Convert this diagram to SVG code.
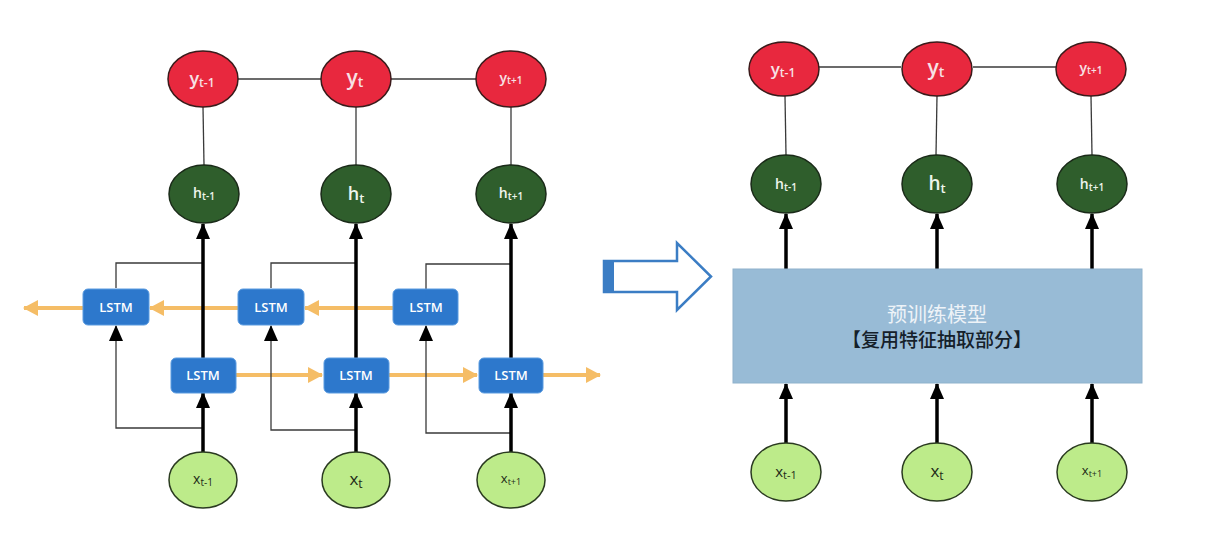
<svg xmlns="http://www.w3.org/2000/svg" width="1226" height="560" viewBox="0 0 1226 560">
<defs>
<style>
.y{fill:#E8283E;stroke:#3a1a1a;stroke-width:1.5}
.h{fill:#2F5E2C;stroke:#1a2a18;stroke-width:1.5}
.x{fill:#BDEB8A;stroke:#2a3a20;stroke-width:1.5}
.lstm{fill:#2D78CC;stroke:#5a9be0;stroke-width:1}
.lt{font-family:"Open Sans","Liberation Sans",sans-serif;fill:#ffffff;font-size:13px;font-weight:600;text-anchor:middle}
.lab{font-family:"Open Sans","Liberation Sans",sans-serif;text-anchor:middle}
.ylab{fill:#f7e1e5;font-weight:600}
.hlab{fill:#eef5ec;font-weight:600}
.xlab{fill:#1e2a18}
.thin{stroke:#3a3a3a;stroke-width:1.3;fill:none}
.thick{stroke:#000;stroke-width:3.5;fill:none}
.or{stroke:#F4B656;stroke-width:4;fill:none;opacity:0.9}
</style>
<marker id="blk" viewBox="0 0 16 14" refX="15" refY="7" markerWidth="16" markerHeight="14" markerUnits="userSpaceOnUse" orient="auto">
<path d="M0,0 L16,7 L0,14 z" fill="#000"/>
</marker>
<marker id="orh" viewBox="0 0 15 16" refX="14" refY="8" markerWidth="15" markerHeight="16" markerUnits="userSpaceOnUse" orient="auto">
<path d="M0,0 L15,8 L0,16 z" fill="#F4B656"/>
</marker>
</defs>
<rect width="1226" height="560" fill="#ffffff"/>

<g id="connectors">
<line class="thin" x1="238" y1="79" x2="321" y2="79"/>
<line class="thin" x1="391" y1="79" x2="476" y2="79"/>
<line class="thin" x1="203" y1="107" x2="204" y2="165"/>
<line class="thin" x1="356" y1="107" x2="356" y2="165"/>
<line class="thin" x1="511" y1="107" x2="511" y2="165"/>
<line class="or" x1="83" y1="308" x2="24" y2="308" marker-end="url(#orh)"/>
<line class="or" x1="238" y1="308" x2="150" y2="308" marker-end="url(#orh)"/>
<line class="or" x1="393" y1="308" x2="305" y2="308" marker-end="url(#orh)"/>
<line class="or" x1="236" y1="375" x2="322" y2="375" marker-end="url(#orh)"/>
<line class="or" x1="389" y1="375" x2="477" y2="375" marker-end="url(#orh)"/>
<line class="or" x1="543" y1="375" x2="600" y2="375" marker-end="url(#orh)"/>
<polyline class="thin" points="116,288 116,263 203,263"/>
<polyline class="thin" points="271,288 271,263 356,263"/>
<polyline class="thin" points="426,289 426,264 511,264"/>
<polyline class="thin" points="203,428 116,428 116,326" marker-end="url(#blk)"/>
<polyline class="thin" points="356,430 271,430 271,326" marker-end="url(#blk)"/>
<polyline class="thin" points="511,433 426,433 426,326" marker-end="url(#blk)"/>
<line class="thick" x1="203" y1="452" x2="203" y2="393" marker-end="url(#blk)"/>
<line class="thick" x1="356" y1="452" x2="356" y2="393" marker-end="url(#blk)"/>
<line class="thick" x1="511" y1="452" x2="511" y2="393" marker-end="url(#blk)"/>
<line class="thick" x1="203" y1="358" x2="203" y2="224" marker-end="url(#blk)"/>
<line class="thick" x1="356" y1="358" x2="356" y2="224" marker-end="url(#blk)"/>
<line class="thick" x1="511" y1="358" x2="511" y2="224" marker-end="url(#blk)"/>
<line class="thin" x1="819" y1="67" x2="901" y2="67"/>
<line class="thin" x1="973" y1="67" x2="1056" y2="67"/>
<line class="thin" x1="785" y1="96" x2="786" y2="155"/>
<line class="thin" x1="937" y1="96" x2="936" y2="155"/>
<line class="thin" x1="1091" y1="96" x2="1092" y2="155"/>
<line class="thick" x1="786" y1="269" x2="786" y2="214" marker-end="url(#blk)"/>
<line class="thick" x1="937" y1="269" x2="937" y2="214" marker-end="url(#blk)"/>
<line class="thick" x1="1092" y1="269" x2="1092" y2="214" marker-end="url(#blk)"/>
<line class="thick" x1="786" y1="443" x2="786" y2="384" marker-end="url(#blk)"/>
<line class="thick" x1="937" y1="443" x2="937" y2="384" marker-end="url(#blk)"/>
<line class="thick" x1="1092" y1="443" x2="1092" y2="384" marker-end="url(#blk)"/>
</g>

<g id="L_y_tm1"><ellipse class="y" cx="203" cy="79" rx="35" ry="28"/><text class="lab ylab" x="202" y="85" font-size="18">y<tspan font-size="12" dy="2">t-1</tspan></text></g>
<g id="L_y_t"><ellipse class="y" cx="356" cy="79" rx="35" ry="28"/><text class="lab ylab" x="355" y="85" font-size="21">y<tspan font-size="14" dy="2">t</tspan></text></g>
<g id="L_y_tp1"><ellipse class="y" cx="511" cy="79" rx="35" ry="28"/><text class="lab ylab" x="511" y="83" font-size="14">y<tspan font-size="10" dy="1">t+1</tspan></text></g>
<g id="L_h_tm1"><ellipse class="h" cx="204" cy="194" rx="35" ry="29"/><text class="lab hlab" x="204" y="198" font-size="14">h<tspan font-size="10" dy="2">t-1</tspan></text></g>
<g id="L_h_t"><ellipse class="h" cx="356" cy="194" rx="35" ry="29"/><text class="lab hlab" x="356" y="200" font-size="18">h<tspan font-size="13" dy="3">t</tspan></text></g>
<g id="L_h_tp1"><ellipse class="h" cx="511" cy="194" rx="35" ry="29"/><text class="lab hlab" x="511" y="198" font-size="14">h<tspan font-size="10" dy="2">t+1</tspan></text></g>

<g id="L_lstm_up1"><rect class="lstm" x="83" y="289" width="66" height="36" rx="5"/><text class="lt" x="116" y="312">LSTM</text></g>
<g id="L_lstm_up2"><rect class="lstm" x="238" y="289" width="66" height="36" rx="5"/><text class="lt" x="271" y="312">LSTM</text></g>
<g id="L_lstm_up3"><rect class="lstm" x="393" y="289" width="65" height="36" rx="5"/><text class="lt" x="426" y="312">LSTM</text></g>
<g id="L_lstm_lo1"><rect class="lstm" x="171" y="358" width="65" height="35" rx="5"/><text class="lt" x="203" y="380">LSTM</text></g>
<g id="L_lstm_lo2"><rect class="lstm" x="324" y="358" width="65" height="35" rx="5"/><text class="lt" x="356" y="380">LSTM</text></g>
<g id="L_lstm_lo3"><rect class="lstm" x="479" y="358" width="64" height="35" rx="5"/><text class="lt" x="511" y="380">LSTM</text></g>

<g id="L_x_tm1"><ellipse class="x" cx="203" cy="480" rx="34" ry="28"/><text class="lab xlab" x="203" y="484" font-size="14">x<tspan font-size="10" dy="2">t-1</tspan></text></g>
<g id="L_x_t"><ellipse class="x" cx="356" cy="480" rx="34" ry="28"/><text class="lab xlab" x="356" y="485" font-size="17">x<tspan font-size="12" dy="3">t</tspan></text></g>
<g id="L_x_tp1"><ellipse class="x" cx="511" cy="480" rx="34" ry="28"/><text class="lab xlab" x="511" y="483" font-size="13">x<tspan font-size="9" dy="2">t+1</tspan></text></g>

<g id="transition">
<polygon points="604,261 677,261 677,243 711,276.5 677,310 677,292 604,292" fill="#ffffff" stroke="#3B7DC4" stroke-width="2.5" stroke-linejoin="miter"/>
<rect x="604" y="261" width="10" height="31" fill="#3B7DC4"/>
</g>

<g id="R_model"><rect x="733" y="269" width="409" height="114" fill="#98BBD6" stroke="#8fb2cc" stroke-width="1"/>
<text x="937" y="322" font-family="'Liberation Sans','Noto Sans CJK SC',sans-serif" font-size="20" fill="#eef3f8" text-anchor="middle">预训练模型</text>
<text x="937" y="347" font-family="'Liberation Sans','Noto Sans CJK SC',sans-serif" font-size="19" font-weight="500" fill="#15202a" text-anchor="middle">【复用特征抽取部分】</text></g>

<g id="R_y_tm1"><ellipse class="y" cx="784" cy="69" rx="35" ry="27"/><text class="lab ylab" x="783" y="75" font-size="17">y<tspan font-size="12" dy="2">t-1</tspan></text></g>
<g id="R_y_t"><ellipse class="y" cx="937" cy="69" rx="35" ry="27"/><text class="lab ylab" x="936" y="75" font-size="21">y<tspan font-size="14" dy="2">t</tspan></text></g>
<g id="R_y_tp1"><ellipse class="y" cx="1091" cy="69" rx="35" ry="27"/><text class="lab ylab" x="1091" y="73" font-size="14">y<tspan font-size="10" dy="1">t+1</tspan></text></g>
<g id="R_h_tm1"><ellipse class="h" cx="786" cy="184" rx="35" ry="29"/><text class="lab hlab" x="786" y="189" font-size="14">h<tspan font-size="10" dy="2">t-1</tspan></text></g>
<g id="R_h_t"><ellipse class="h" cx="937" cy="184" rx="35" ry="29"/><text class="lab hlab" x="937" y="190" font-size="19">h<tspan font-size="13" dy="3">t</tspan></text></g>
<g id="R_h_tp1"><ellipse class="h" cx="1092" cy="184" rx="35" ry="29"/><text class="lab hlab" x="1092" y="189" font-size="14">h<tspan font-size="10" dy="2">t+1</tspan></text></g>
<g id="R_x_tm1"><ellipse class="x" cx="786" cy="472" rx="35" ry="29"/><text class="lab xlab" x="786" y="477" font-size="15">x<tspan font-size="11" dy="2">t-1</tspan></text></g>
<g id="R_x_t"><ellipse class="x" cx="937" cy="472" rx="35" ry="29"/><text class="lab xlab" x="937" y="477" font-size="17">x<tspan font-size="12" dy="3">t</tspan></text></g>
<g id="R_x_tp1"><ellipse class="x" cx="1092" cy="472" rx="35" ry="29"/><text class="lab xlab" x="1092" y="475" font-size="13">x<tspan font-size="9" dy="2">t+1</tspan></text></g>
</svg>
